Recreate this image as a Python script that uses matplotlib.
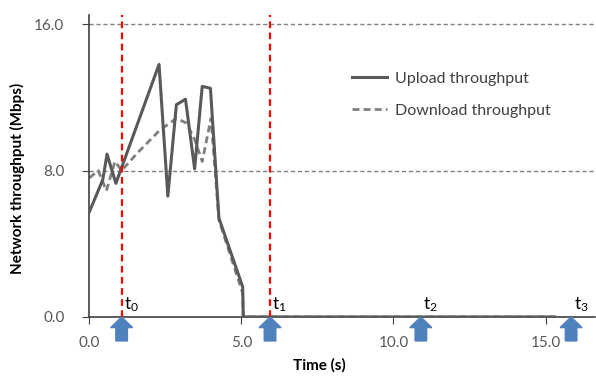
import matplotlib.pyplot as plt
from matplotlib.patches import FancyArrow

# 數據
upload_t = [0.0, 0.44, 0.58, 0.87, 2.29, 2.58, 2.86, 3.16, 3.46, 3.71, 3.98, 4.26, 5.04, 5.06, 15.3]
upload_v = [5.75, 7.5, 8.9, 7.3, 13.8, 6.6, 11.6, 11.9, 8.1, 12.6, 12.5, 5.4, 1.65, 0.0, 0.0]

download_t = [0.0, 0.29, 0.56, 0.84, 1.06, 1.6, 2.31, 2.86, 3.19, 3.46, 3.71, 4.0, 4.26, 5.04, 5.06, 15.3]
download_v = [7.6, 8.0, 6.9, 8.5, 8.0, 9.0, 10.2, 10.85, 10.6, 9.7, 8.5, 10.85, 5.3, 1.3, 0.0, 0.0]

event_times = [1.06, 5.94, 10.9, 15.84]
event_labels = ['$\\mathregular{t_0}$', '$\\mathregular{t_1}$', '$\\mathregular{t_2}$', '$\\mathregular{t_3}$']
red_line_times = [1.06, 5.94]

x_ticks = [0, 5, 10, 15]
y_ticks = [0, 8, 16]

plt.rcParams['font.family'] = ['Lato', 'DejaVu Sans']

fig = plt.figure(figsize=(5.96, 3.76), dpi=100)
ax = fig.add_axes([0.150, 0.157, 0.849, 0.803])

# 網格線
for yv in [8, 16]:
    ax.axhline(yv, color='#808080', linestyle='--', linewidth=1, dashes=(3, 2), zorder=1)

ax.plot(upload_t, upload_v, color='#595959', linewidth=2.2, label='Upload throughput', zorder=3)
ax.plot(download_t, download_v, color='#7f7f7f', linewidth=2, linestyle='--', dashes=(2.5, 1.5),
        label='Download throughput', zorder=2)

for t in red_line_times:
    ax.axvline(t, color='red', linestyle='--', linewidth=1.6, dashes=(3, 2), zorder=4)

for t, lab in zip(event_times, event_labels):
    arr = FancyArrow(t, -1.31, 0, 1.31, width=0.38, head_width=0.72, head_length=0.58,
                     length_includes_head=True, color='#4f81bd', clip_on=False, zorder=5)
    ax.add_patch(arr)
    ax.text(t + 0.08, 0.15, lab, fontsize=12.5, ha='left', va='bottom', color='black')

ax.set_xlim(0, 16.64)
ax.set_ylim(0, 16.5)
ax.set_xticks(x_ticks)
ax.set_xticklabels([f'{v:.1f}' for v in x_ticks])
ax.set_yticks(y_ticks)
ax.set_yticklabels([f'{v:.1f}' for v in y_ticks])
ax.tick_params(axis='both', colors='#404040', labelcolor='#595959', labelsize=11, length=5)
ax.tick_params(axis='x', pad=9)
ax.tick_params(axis='y', pad=13)

for s in ['top', 'right']:
    ax.spines[s].set_visible(False)
for s in ['left', 'bottom']:
    ax.spines[s].set_color('#404040')
    ax.spines[s].set_linewidth(1.2)

ax.set_xlabel('Time (s)', fontsize=11, fontweight='bold')
ax.set_ylabel('Network throughput (Mbps)', fontsize=11, fontweight='bold')
ax.xaxis.set_label_coords(0.454, -0.135)
ax.yaxis.set_label_coords(-0.128, 0.46)

leg = ax.legend(loc='upper left', bbox_to_anchor=(0.49, 0.86), frameon=False, fontsize=11.5,
                handlelength=2.2, handletextpad=0.5, labelspacing=1.1, labelcolor='#404040')

fig.savefig('out.png', dpi=100)
